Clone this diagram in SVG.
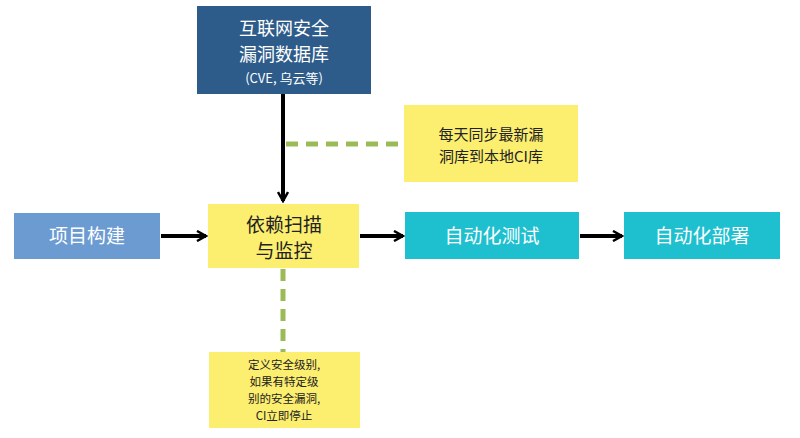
<svg xmlns="http://www.w3.org/2000/svg" width="800" height="438" viewBox="0 0 800 438">
<defs><marker id="ah" viewBox="0 0 12 12" refX="10" refY="6" markerWidth="12" markerHeight="12" markerUnits="userSpaceOnUse" orient="auto"><path d="M1,1 L10,6 L1,11" fill="none" stroke="#000" stroke-width="2.5"/></marker></defs>
<style>
text{font-family:"Noto Sans CJK SC","Liberation Serif",serif;text-anchor:middle}
.w{fill:#fff}.k{fill:#222}
.c{stroke:#000;stroke-width:4;fill:none;marker-end:url(#ah)}
.d{stroke:#9bbb59;stroke-width:5;stroke-dasharray:12,8;fill:none}
</style>
<rect width="800" height="438" fill="#fff"/>
<g id="connectors">
<path class="c" d="M283,94 V201"/>
<path class="c" d="M161,236 H206"/>
<path class="c" d="M360,236 H403"/>
<path class="c" d="M580,236 H622"/>
<path class="d" d="M286,144 H404"/>
<path class="d" d="M283,269 V352"/>
</g>
<g id="db"><rect x="197" y="6" width="174" height="88" fill="#2e5c8a"/>
<text class="w" x="284" y="35" font-size="18">互联网安全</text><text class="w" x="284" y="61" font-size="18">漏洞数据库</text><text class="w" x="284" y="83" font-size="13">(CVE, 乌云等)</text></g>
<g id="sync"><rect x="404" y="105" width="174" height="77" fill="#fcee6f"/>
<text class="k" x="491" y="140" font-size="15">每天同步最新漏</text><text class="k" x="491" y="162" font-size="15">洞库到本地CI库</text></g>
<g id="build"><rect x="14" y="213" width="146" height="46" fill="#6c9bd2"/><text class="w" x="87" y="243" font-size="19">项目构建</text></g>
<g id="scan"><rect x="208" y="204" width="151" height="64" fill="#fcee6f"/>
<text class="k" x="284" y="232" font-size="19">依赖扫描</text><text class="k" x="284" y="258" font-size="19">与监控</text></g>
<g id="test"><rect x="405" y="212" width="174" height="47" fill="#1ec0d0"/><text class="w" x="492" y="243" font-size="19">自动化测试</text></g>
<g id="deploy"><rect x="624" y="212" width="156" height="47" fill="#1ec0d0"/><text class="w" x="702" y="243" font-size="19">自动化部署</text></g>
<g id="policy"><rect x="209" y="352" width="151" height="76" fill="#fcee6f"/>
<text class="k" x="284" y="369" font-size="11.5">定义安全级别,</text><text class="k" x="284" y="386" font-size="11.5">如果有特定级</text><text class="k" x="284" y="403" font-size="11.5">别的安全漏洞,</text><text class="k" x="284" y="420" font-size="11.5">CI立即停止</text></g>
</svg>
